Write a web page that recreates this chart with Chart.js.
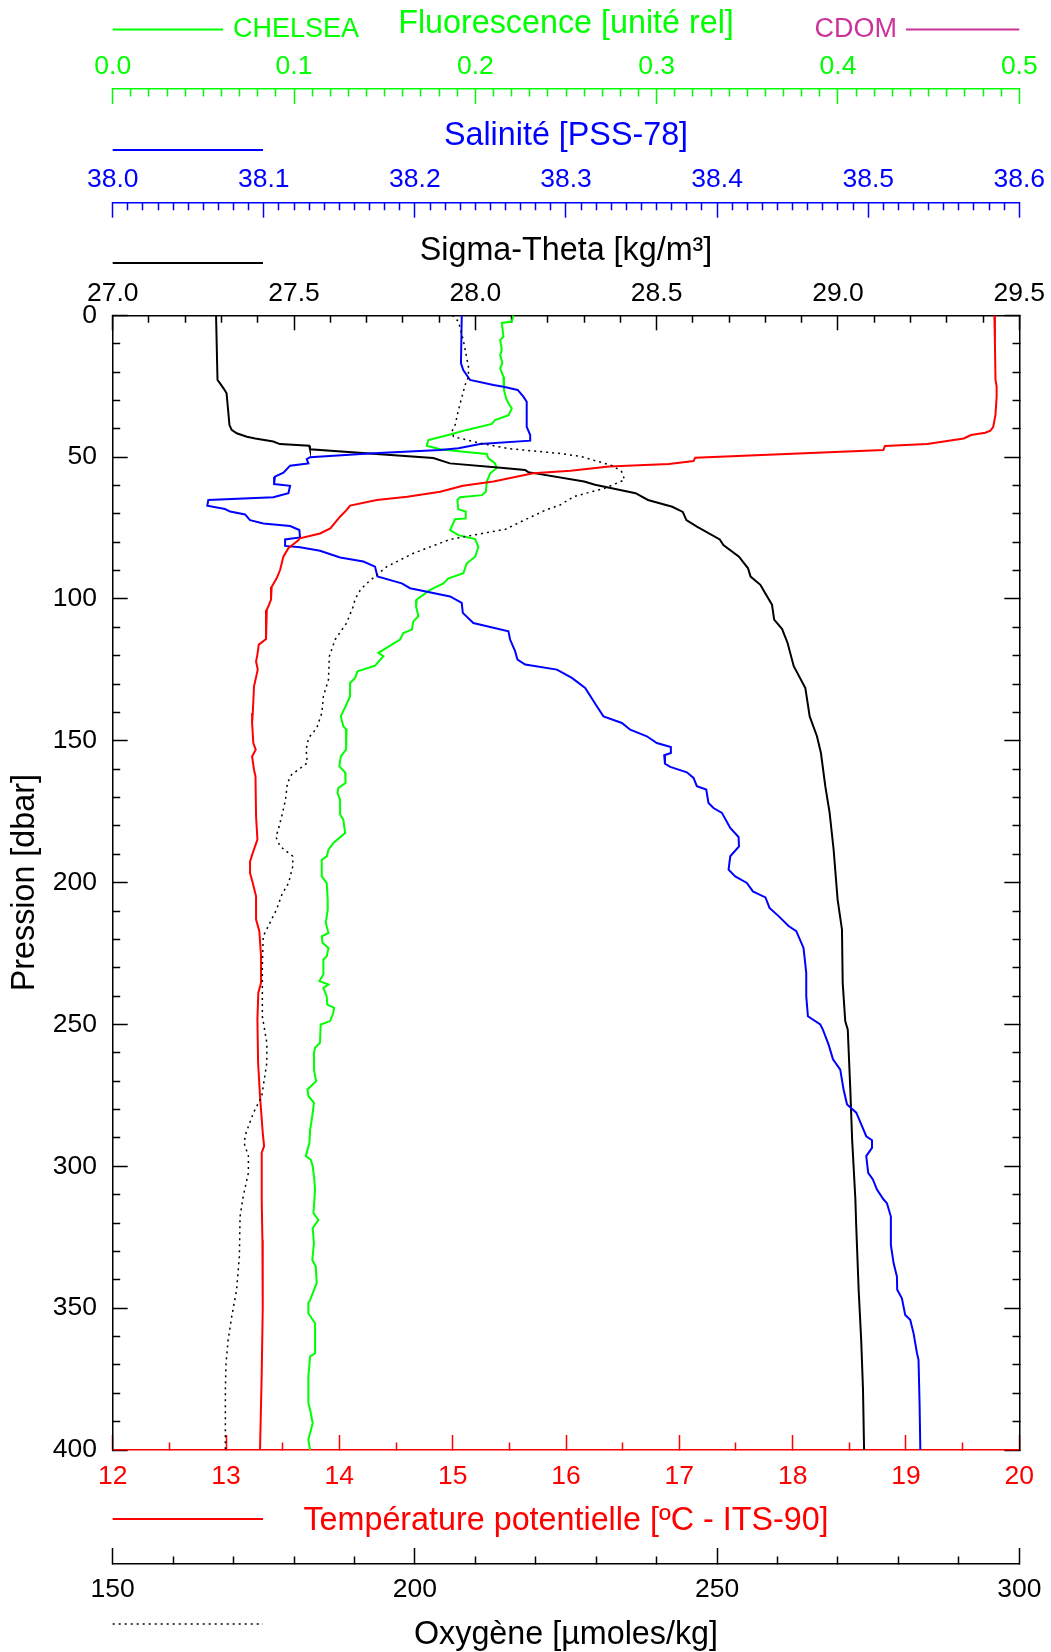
<!DOCTYPE html>
<html><head><meta charset="utf-8">
<script src="https://cdn.jsdelivr.net/npm/chart.js@4.4.1/dist/chart.umd.min.js"></script>
<style>html,body{margin:0;padding:0;background:#fff;}canvas{display:block;}</style>
</head><body>
<canvas id="c" width="1051" height="1652"></canvas>
<script>
// ---------- DATA (pressure in dbar) ----------
const tempP = [0,10,22.8,25,28.6,35,39.3,40.7,41.4,42.2,
  43.4,45.4,46.1,47.5,50.2,51.4,52.4,53.3,54.8,55.7,
  58.6,60.1,62.2,64,65.1,67.1,68.6,71,75.1,76.9,
  78.6,79.2,82.1,85.1,89.8,92.7,95.7,100.2,102,103.8,
  114.1,116.1,119.6,122,124.9,130.8,140.2,143.7,150.8,153.1,
  155.5,160.2,162.5,176.6,184.8,189.5,192.5,196.6,200.1,204.8,
  213,217.1,225.9,235.3,238.8,248.2,263.5,275.3,288.2,292.9,
  295.2,311.7,325.9,350,372.9,400];
const tempV = [19.78,19.785,19.79,19.80,19.80,19.79,19.77,19.745,19.70,19.574,
  19.51,19.187,18.814,18.80,17.14,17.125,16.908,16.38,16.04,15.71,
  15.36,15.09,14.89,14.6,14.33,14.095,14.065,14.006,13.92,13.83,
  13.65,13.64,13.55,13.506,13.477,13.447,13.403,13.397,13.38,13.36,
  13.353,13.289,13.277,13.265,13.28,13.247,13.236,13.23,13.241,13.262,
  13.23,13.247,13.26,13.265,13.277,13.236,13.212,13.212,13.236,13.265,
  13.265,13.294,13.309,13.309,13.285,13.277,13.283,13.30,13.324,13.336,
  13.315,13.315,13.321,13.324,13.315,13.30];

const sigP = [0,22.8,24,26,27.5,38.7,40.4,41.6,42.8,43.4,
  44.5,45.4,46,47.2,50.3,52.2,53.7,54.5,55.3,58.6,
  59.7,62.7,65.1,67.5,69.3,72.2,74.5,79,81,85.1,
  89.2,92.1,95,97,102,107.3,110.6,115.5,123.7,131.4,
  141.4,148.4,154.3,166,175.4,188.4,206,216.5,235.3,248.8,
  251.8,272.9,290.5,311.7,320,343.5,361.2,378.8,400];
const sigV = [27.285,27.289,27.296,27.307,27.314,27.322,27.328,27.342,27.370,27.393,
  27.443,27.461,27.542,27.544,27.884,27.930,28.07,28.137,28.146,28.30,
  28.33,28.442,28.476,28.543,28.572,28.582,28.611,28.674,28.684,28.727,
  28.752,28.759,28.786,28.795,28.818,28.824,28.846,28.861,28.878,28.91,
  28.922,28.942,28.953,28.965,28.977,28.988,28.999,29.011,29.013,29.02,
  29.027,29.034,29.039,29.048,29.05,29.057,29.064,29.069,29.072];

const salP = [0,16.9,19.3,22.8,24.6,25.2,26.3,28.7,30.5,39.3,
  42.2,44.2,45.4,46.9,47.5,48.6,50,50.7,52.2,52.5,
  53,55.5,56.9,59.5,60.1,62.7,64.1,65.1,67.1,68.3,
  69.2,70.2,72.2,73.4,74.3,75.7,78.3,79,81.3,81.8,
  83,85.4,86.8,88.6,92.1,94.5,96.2,99.1,101.4,104.9,
  108.5,111.4,114.3,118.4,121.4,123.1,124.9,127.8,131.4,137.8,
  141.4,143.7,146.1,148.4,150.8,152.2,154.3,155.1,158.1,159.2,
  161.1,163.1,166,167.2,171.9,173.7,175.4,180.7,183.9,187.2,
  190.7,195.4,197.8,200.1,203.1,205.2,208.9,211.8,215.3,217.1,
  223,231.8,240,247.1,250,251.8,257.1,262.3,265.9,272.9,
  278.2,281.1,285.8,289.4,290.8,293.5,296.4,302.3,304.6,308.2,
  311.7,313,317.7,327.7,334.1,338.8,343.5,346.5,352.4,354.1,
  358.8,365.9,368.2,383.5,400];
const salV = [38.231,38.2305,38.232,38.2365,38.252,38.2586,38.268,38.2718,38.274,38.274,
  38.2763,38.2763,38.2432,38.2288,38.2167,38.1725,38.1306,38.1284,38.1295,38.1251,
  38.1174,38.113,38.1074,38.1068,38.1174,38.1163,38.1063,38.0633,38.0626,38.0743,
  38.0777,38.0876,38.0909,38.0997,38.1174,38.1235,38.124,38.1141,38.1141,38.124,
  38.1372,38.1505,38.1659,38.1736,38.1752,38.1913,38.1968,38.2233,38.231,38.2317,
  38.2387,38.2619,38.263,38.2663,38.2679,38.273,38.294,38.3039,38.3127,38.3204,
  38.3248,38.337,38.3425,38.3535,38.3601,38.3694,38.3694,38.365,38.3655,38.369,
  38.38,38.3844,38.3866,38.3928,38.3943,38.3976,38.4032,38.4087,38.4142,38.4145,
  38.4087,38.4076,38.412,38.4197,38.4237,38.432,38.4347,38.4407,38.4473,38.4524,
  38.4572,38.459,38.459,38.4601,38.4683,38.470,38.4738,38.4767,38.4815,38.4837,
  38.486,38.4921,38.4959,38.4987,38.5025,38.5025,38.4987,38.500,38.5031,38.5058,
  38.5102,38.5124,38.515,38.515,38.5168,38.519,38.5192,38.5223,38.5245,38.5278,
  38.53,38.5323,38.5333,38.534,38.5345];

const fluoP = [0,2.2,2.7,7.5,8.7,12.2,14,16.9,18.7,21.7,
  26.3,29.3,31,32.8,35.2,36.9,38.3,40.4,42,44,
  46,47.2,48.1,48.9,50.4,52.2,53.9,55.7,58.6,62.2,
  63.4,64.1,65.1,68.4,69.2,71.6,71.9,75.7,77.5,78.9,
  81.6,85.1,87.4,90.9,92.7,94.5,96.8,100.2,102.6,106.1,
  107.9,110.8,112,114.3,119,120.2,123.5,125.5,127.8,129.6,
  134.3,136.9,141.4,144.9,146.1,153.1,155.5,159,161.1,164.9,
  166.6,168.4,170.7,176,177.8,182.5,186,188.4,190.7,191.9,
  197.8,200.1,206,209.5,214.2,217.7,218.9,221.2,223,225.9,
  227.1,232.4,234.7,235.9,237.1,240,243,244.1,245.9,248.8,
  250,256.5,258.2,260,265.9,270,272.9,275.3,277.6,283.5,
  287,291.7,296.4,297.6,299.9,304.7,308.2,316.5,318.9,321.8,
  327.1,333,335.3,341.2,347.1,348.2,351.8,355.3,365.9,367,
  374.1,383.5,385.8,390.5,396.4,400];
const fluoV = [0.221,0.2201,0.2146,0.2155,0.2137,0.2146,0.2137,0.2149,0.2137,0.2155,
  0.2158,0.217,0.2183,0.2201,0.2183,0.2109,0.2091,0.1953,0.1861,0.1741,
  0.1732,0.1806,0.1934,0.2063,0.2072,0.2109,0.2118,0.2082,0.2063,0.2058,
  0.2036,0.1916,0.1901,0.1906,0.1947,0.1947,0.1888,0.1861,0.1906,0.1999,
  0.2017,0.1999,0.1953,0.1934,0.1852,0.1824,0.1751,0.1677,0.1673,0.1686,
  0.1658,0.165,0.1603,0.1585,0.1465,0.1493,0.1447,0.135,0.1337,0.1309,
  0.1309,0.1291,0.1258,0.1272,0.129,0.1287,0.1258,0.125,0.1282,0.1284,
  0.1245,0.124,0.1254,0.1254,0.1272,0.1282,0.1217,0.119,0.1181,0.1153,
  0.1153,0.118,0.1186,0.1186,0.1175,0.119,0.1153,0.1157,0.119,0.1181,
  0.1162,0.1162,0.114,0.119,0.1162,0.118,0.1184,0.1221,0.1217,0.1199,
  0.1147,0.1143,0.1116,0.111,0.111,0.1122,0.1074,0.108,0.111,0.1098,
  0.1089,0.1085,0.1065,0.1092,0.1103,0.1112,0.1116,0.1107,0.1134,0.1103,
  0.111,0.1101,0.112,0.1125,0.1089,0.1079,0.1079,0.1116,0.1116,0.1089,
  0.1079,0.1079,0.1089,0.1103,0.1079,0.1089];

const oxyP = [0,2.2,8.7,18.1,21.7,24.6,33.4,38.7,41,42.8,
  45.1,47,48.7,49.8,53,55.1,58,60.9,63.9,66.9,
  68.6,72.7,75.4,79,83.9,88.6,94.5,96.8,100.1,102.6,
  108.5,114.3,120.2,128.4,134.3,140.2,145.5,149,153.1,157.8,
  160.2,161.9,164.9,170.7,175.4,181.3,183.9,187.2,190.7,194.2,
  200.1,204.2,209.5,214.2,218.9,229.4,247.1,256.5,263.5,275.3,
  281.1,288.2,291.7,296.4,302.3,310.5,317.7,331.8,343.5,352.9,
  361.2,369.4,378.8,400];
const oxyV = [206.2,207.2,208.0,208.86,208.86,208.3,207.2,206.65,206.1,206.4,
  210.8,215.5,224,227.5,232.7,234.2,234.7,231.5,226.3,224,
  221.7,217.6,215,205.8,199.75,195.35,192.04,190.98,190.1,189.8,
  188.7,186.8,185.85,185.7,184.86,184.6,183.76,182.4,182,182.2,
  180.7,179.6,178.9,178.6,178.1,177.4,177.0,177.7,179.8,179.8,
  179.1,178.0,177.1,176.0,174.9,174.76,174.76,175.5,175.5,174.66,
  173.3,172.06,171.73,172.45,172.45,171.6,171.07,170.96,170.5,169.7,
  169.1,168.75,168.64,168.64];

// tick labels
const fluoLabels = ['0.0','0.1','0.2','0.3','0.4','0.5'];
const salLabels = ['38.0','38.1','38.2','38.3','38.4','38.5','38.6'];
const sigLabels = ['27.0','27.5','28.0','28.5','29.0','29.5'];
const tempLabels = ['12','13','14','15','16','17','18','19','20'];
const oxyLabels = ['150','200','250','300'];
const presLabels = ['0','50','100','150','200','250','300','350','400'];

// ---------- STYLE ----------
const FONT = "'Liberation Sans', Arial, Helvetica, sans-serif";
const GREEN = '#00ff00', BLUE = '#0000ff', RED = '#ff0000', MAG = '#cc3399', BLACK = '#000000';
Chart.defaults.font.family = FONT;

function tickValues(min, max, step) {
  const n = Math.round((max - min) / step), out = [];
  for (let i = 0; i <= n; i++) out.push(+(min + i * step).toFixed(6));
  return out;
}
const TIP_FIRST = [0, 7.5, 20, 200];   // top / left axes: line drawn from tip to border
const BORDER_FIRST = [8, 200];        // bottom / right axes: line drawn from border to tip

function makeScale(o) {
  const vals = tickValues(o.min, o.max, o.minor);
  const isMaj = v => { const r = (v - o.min) / o.major; return Math.abs(r - Math.round(r)) < 1e-6; };
  return {
    type: 'linear', position: o.pos, weight: o.weight || 0, min: o.min, max: o.max, reverse: !!o.reverse,
    afterBuildTicks: ax => { ax.ticks = vals.map(v => ({ value: v })); },
    afterFit: ax => {
      if (o.height != null) ax.height = o.height;
      if (o.width != null) ax.width = o.width;
      ax.paddingLeft = 0; ax.paddingRight = 0; ax.paddingTop = 0; ax.paddingBottom = 0;
    },
    ticks: {
      autoSkip: false, maxRotation: 0, minRotation: 0, color: o.color,
      font: { family: FONT, size: 26.5 }, padding: o.tickPad,
      callback: v => (o.labels && isMaj(v)) ? o.labels[Math.round((v - o.min) / o.major)] : ''
    },
    grid: {
      display: true, drawOnChartArea: false, drawTicks: true, tickLength: -o.tl,
      color: o.color, tickColor: o.color, tickWidth: 1.5, lineWidth: 1,
      tickBorderDash: c => (c.tick && !isMaj(c.tick.value)) ? o.minorDash : []
    },
    border: { display: true, color: o.color, width: 1.5 },
    title: o.title ? { display: true, text: o.title, color: o.color, font: { family: FONT, size: 32.3 }, padding: o.titlePad }
                   : { display: false }
  };
}

const line = (P, V) => P.map((p, i) => ({ x: V[i], y: p }));

const legendPlugin = {
  id: 'legendMarks',
  afterDraw(chart) {
    const ctx = chart.ctx;
    const seg = (x1, x2, y, color, w, dash) => {
      ctx.save(); ctx.strokeStyle = color; ctx.lineWidth = w; ctx.setLineDash(dash || []);
      ctx.beginPath(); ctx.moveTo(x1, y); ctx.lineTo(x2, y); ctx.stroke(); ctx.restore();
    };
    const txt = (s, x, y, color, align) => {
      ctx.save(); ctx.fillStyle = color; ctx.font = '27px ' + FONT; ctx.textAlign = align; ctx.textBaseline = 'middle';
      ctx.fillText(s, x, y); ctx.restore();
    };
    const L = chart.chartArea.left, R = chart.chartArea.right;
    seg(L, 223, 29.5, GREEN, 2);
    txt('CHELSEA', 233, 29.5, GREEN, 'left');
    txt('CDOM', 897, 29.5, MAG, 'right');
    seg(906, R, 29.5, MAG, 2);
    seg(L, 263, 150, BLUE, 2);
    seg(L, 263, 263, BLACK, 2);
    seg(L, 263, 1519, RED, 2);
    seg(L, 263, 1624, BLACK, 1.5, [2, 4]);
  }
};

new Chart(document.getElementById('c'), {
  type: 'scatter',
  data: {
    datasets: [
      { label: 'Oxygène', data: line(oxyP, oxyV), xAxisID: 'xO', yAxisID: 'y', borderColor: BLACK, borderWidth: 1.5, borderDash: [2, 4] },
      { label: 'Température', data: line(tempP, tempV), xAxisID: 'xT', yAxisID: 'y', borderColor: RED, borderWidth: 2 },
      { label: 'Salinité', data: line(salP, salV), xAxisID: 'xS', yAxisID: 'y', borderColor: BLUE, borderWidth: 2 },
      { label: 'Sigma-Theta', data: line(sigP, sigV), xAxisID: 'xD', yAxisID: 'y', borderColor: BLACK, borderWidth: 2 },
      { label: 'Fluorescence', data: line(fluoP, fluoV), xAxisID: 'xF', yAxisID: 'y', borderColor: GREEN, borderWidth: 2 }
    ].map(d => Object.assign(d, { showLine: true, pointRadius: 0, pointHoverRadius: 0, fill: false, tension: 0 }))
  },
  options: {
    responsive: false, animation: false, devicePixelRatio: 1,
    layout: { padding: 0 },
    plugins: { legend: { display: false }, tooltip: { enabled: false } },
    scales: {
      xF: makeScale({ pos: 'top', weight: 3, min: 0, max: 0.5, major: 0.1, minor: 0.01, labels: fluoLabels,
        color: GREEN, height: 89, tl: 15, tickPad: 21.1, minorDash: TIP_FIRST,
        title: 'Fluorescence [unité rel]', titlePad: { top: 4.6, bottom: 0 } }),
      xS: makeScale({ pos: 'top', weight: 2, min: 38.0, max: 38.6, major: 0.1, minor: 0.01, labels: salLabels,
        color: BLUE, height: 113.7, tl: 15, tickPad: 22, minorDash: TIP_FIRST,
        title: 'Salinité [PSS-78]', titlePad: { top: 27.7, bottom: 0 } }),
      xD: makeScale({ pos: 'top', weight: 1, min: 27.0, max: 29.5, major: 0.5, minor: 0.1, labels: sigLabels,
        color: BLACK, height: 112.6, tl: 15, tickPad: 20.7, minorDash: TIP_FIRST,
        title: 'Sigma-Theta [kg/m³]', titlePad: { top: 28.9, bottom: 0 } }),
      xT: makeScale({ pos: 'bottom', weight: 1, min: 12, max: 20, major: 1, minor: 0.5, labels: tempLabels,
        color: RED, height: 114, tl: 15, tickPad: 26.1, minorDash: BORDER_FIRST,
        title: 'Température potentielle [ºC - ITS-90]', titlePad: { top: 0, bottom: 23.8 } }),
      xO: makeScale({ pos: 'bottom', weight: 2, min: 150, max: 300, major: 50, minor: 10, labels: oxyLabels,
        color: BLACK, height: 88, tl: 16, tickPad: 26.1, minorDash: BORDER_FIRST,
        title: 'Oxygène [µmoles/kg]', titlePad: { top: 0, bottom: -2.1 } }),
      y: makeScale({ pos: 'left', min: 0, max: 400, major: 50, minor: 10, labels: presLabels, reverse: true,
        color: BLACK, width: 112.7, tl: 15, tickPad: 30.7, minorDash: TIP_FIRST,
        title: 'Pression [dbar]', titlePad: { top: 6.2, bottom: 0 } }),
      y2: makeScale({ pos: 'right', min: 0, max: 400, major: 50, minor: 10, labels: null, reverse: true,
        color: BLACK, width: 31.7, tl: 15, tickPad: 0, minorDash: BORDER_FIRST, title: null })
    }
  },
  plugins: [legendPlugin]
});
</script>
</body></html>
